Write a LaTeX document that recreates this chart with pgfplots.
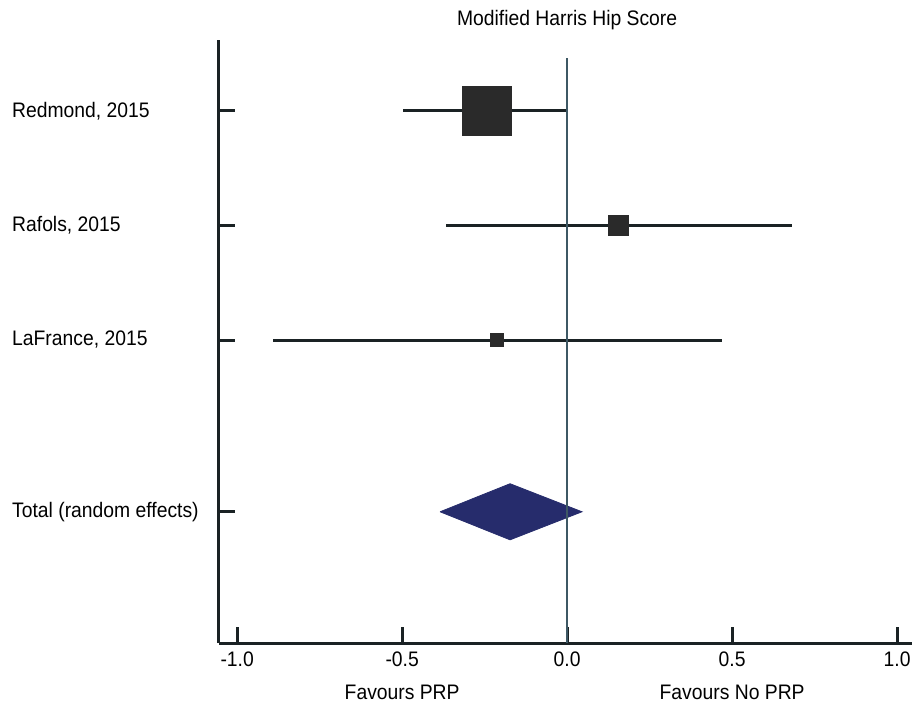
\documentclass[border=0pt]{standalone}
\usepackage{fontspec}
\setmainfont{Liberation Sans}[FakeStretch=0.92]
\usepackage{pgfplots}
\pgfplotsset{compat=1.18}
\definecolor{axisc}{RGB}{26,34,36}
\definecolor{boxc}{RGB}{42,42,42}
\definecolor{zeroc}{RGB}{62,88,100}
\definecolor{diac}{RGB}{38,44,108}
\begin{document}
\begin{tikzpicture}
\begin{axis}[
  at={(0,0)}, anchor=south west,
  scale only axis, width=693bp, height=603bp,
  xmin=-1.055, xmax=1.045, ymin=-0.646, ymax=4.62,
  axis x line=bottom, axis y line=left,
  axis line style={-, line width=3bp, color=axisc},
  xtick={-1,-0.5,0,0.5,1},
  xticklabels={-1.0,-0.5,0.0,0.5,1.0},
  ytick={0.5,2,3,4},
  yticklabels={Total (random effects),{LaFrance, 2015},{Rafols, 2015},{Redmond, 2015}},
  tick align=inside,
  major tick length=16bp,
  major tick style={line width=3bp, color=axisc},
  tick label style={font=\fontsize{21bp}{25bp}\selectfont, text=black},
  yticklabel style={anchor=west, inner sep=0pt, xshift=-207bp},
  xticklabel style={inner sep=0pt, yshift=-9bp},
  clip=false,
]
% diamond (pooled estimate)
\addplot[fill=diac, draw=diac, line width=0.8bp] coordinates {(-0.385,0.5) (-0.173,0.745) (0.045,0.5) (-0.173,0.255) (-0.385,0.5)};
% CI lines
\addplot[axisc, line width=3bp] coordinates {(-0.497,4) (0.0,4)};
\addplot[axisc, line width=3bp] coordinates {(-0.367,3) (0.68,3)};
\addplot[axisc, line width=3bp] coordinates {(-0.891,2) (0.47,2)};
% point estimates
\addplot[only marks, mark=square*, mark size=24.5bp, mark options={fill=boxc, draw=boxc, line width=0.5bp}] coordinates {(-0.245,4)};
\addplot[only marks, mark=square*, mark size=10bp, mark options={fill=boxc, draw=boxc, line width=0.5bp}] coordinates {(0.154,3)};
\addplot[only marks, mark=square*, mark size=6.5bp, mark options={fill=boxc, draw=boxc, line width=0.5bp}] coordinates {(-0.212,2)};
% line of no effect
\addplot[zeroc, line width=1.6bp] coordinates {(0,-0.646) (0,4.463)};
\node[font=\fontsize{21bp}{25bp}\selectfont] at (axis cs:0,4.62) [yshift=20bp] {Modified Harris Hip Score};
\node[font=\fontsize{21bp}{25bp}\selectfont] at (axis cs:-0.5,-0.646) [yshift=-49bp] {Favours PRP};
\node[font=\fontsize{21bp}{25bp}\selectfont] at (axis cs:0.5,-0.646) [yshift=-49bp] {Favours No PRP};
\end{axis}
\pgfresetboundingbox
\path[use as bounding box] (-219bp,-68bp) rectangle (699bp,643bp);
\end{tikzpicture}
\end{document}
